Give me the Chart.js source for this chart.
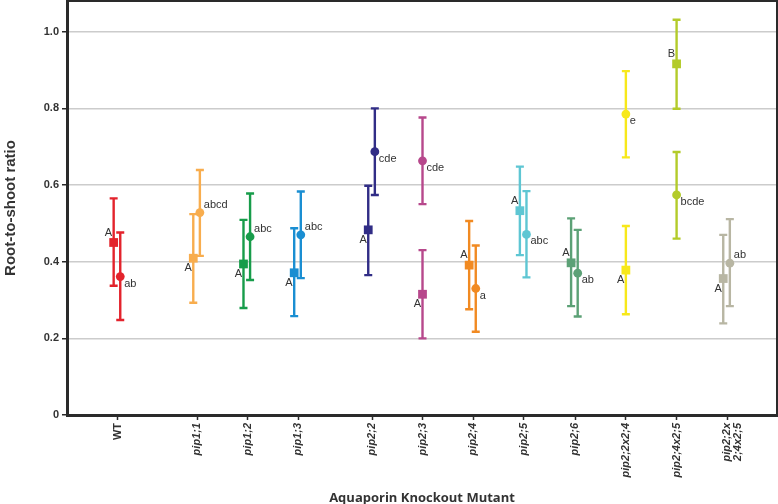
<!DOCTYPE html>
<html><head><meta charset="utf-8">
<script src="https://cdn.jsdelivr.net/npm/chart.js@4"></script>
<style>html,body{margin:0;padding:0;background:#fff}#wrap{width:778px;height:504px;position:relative}canvas{display:block}</style>
</head><body><div id="wrap"><canvas id="c" width="778" height="504" style="width:778px;height:504px"></canvas></div>
<script>
// ---- data ----
const categories = ['WT','pip1;1','pip1;2','pip1;3','pip2;2','pip2;3','pip2;4','pip2;5','pip2;6','pip2;2x2;4','pip2;4x2;5',['pip2;2x','2;4x2;5']];
const xPositions = [0,1.57,2.56,3.56,5.02,6.01,7.01,8.01,9.02,10.02,11.02,12.02];
const squareMean = [0.450,0.409,0.394,0.371,0.483,0.315,0.391,0.533,0.397,0.378,0.916,0.356];
const squareLow  = [0.337,0.293,0.279,0.258,0.365,0.200,0.276,0.417,0.284,0.263,0.799,0.239];
const squareHigh = [0.565,0.524,0.509,0.487,0.598,0.430,0.506,0.648,0.513,0.493,1.031,0.470];
const circleMean = [0.361,0.528,0.465,0.470,0.687,0.663,0.330,0.471,0.370,0.785,0.574,0.396];
const circleLow  = [0.248,0.415,0.352,0.357,0.574,0.550,0.217,0.359,0.257,0.672,0.460,0.284];
const circleHigh = [0.476,0.639,0.578,0.583,0.800,0.776,0.442,0.584,0.483,0.897,0.686,0.511];
const squareLetters = ['A','A','A','A','A','A','A','A','A','A','B','A'];
const circleLetters = ['ab','abcd','abc','abc','cde','cde','a','abc','ab','e','bcde','ab'];
const yTickValues = [0,0.2,0.4,0.6,0.8,1.0];

// ---- style ----
const colors = ['#e3232c','#f8ad4e','#179c4a','#1a8ed2','#312d86','#b7488c','#f18a22','#5ec6d3','#5ca176','#f7e81a','#b3cb2a','#b8b6a3'];
const squareLabelAbove = [true,false,false,false,false,false,true,true,true,false,true,false];
const circleLabelAbove = [false,true,true,true,false,false,false,false,false,false,false,true];
const squareShift = -0.08, circleShift = 0.05;
const dodge = squareLow.map((_, i) => !(squareHigh[i] < circleLow[i] || circleHigh[i] < squareLow[i]));

const squarePts = xPositions.map((x, i) => ({x: x + (dodge[i] ? squareShift : 0), y: squareMean[i]}));
const circlePts = xPositions.map((x, i) => ({x: x + (dodge[i] ? circleShift : 0), y: circleMean[i]}));

const TEXT = '#333333';
const FONT = "'Liberation Sans', Arial, sans-serif";

const extras = {
  id: 'extras',
  beforeDatasetsDraw(chart) {
    const ctx = chart.ctx, ys = chart.scales.y;
    const draw = (meta, lo, hi) => {
      meta.data.forEach((pt, i) => {
        const x = pt.x, y1 = ys.getPixelForValue(lo[i]), y2 = ys.getPixelForValue(hi[i]);
        ctx.save();
        ctx.strokeStyle = colors[i]; ctx.lineWidth = 2.4;
        ctx.beginPath();
        ctx.moveTo(x, y1); ctx.lineTo(x, y2);
        ctx.moveTo(x - 4, y1); ctx.lineTo(x + 4, y1);
        ctx.moveTo(x - 4, y2); ctx.lineTo(x + 4, y2);
        ctx.stroke();
        ctx.restore();
      });
    };
    draw(chart.getDatasetMeta(0), squareLow, squareHigh);
    draw(chart.getDatasetMeta(1), circleLow, circleHigh);
  },
  afterDatasetsDraw(chart) {
    const ctx = chart.ctx;
    ctx.save();
    ctx.fillStyle = TEXT; ctx.font = '11px ' + FONT; ctx.textBaseline = 'middle';
    chart.getDatasetMeta(0).data.forEach((pt, i) => {
      ctx.textAlign = 'right';
      ctx.fillText(squareLetters[i], pt.x - 1.5, pt.y + (squareLabelAbove[i] ? -10 : 10));
    });
    chart.getDatasetMeta(1).data.forEach((pt, i) => {
      ctx.textAlign = 'left';
      ctx.fillText(circleLetters[i], pt.x + 4, pt.y + (circleLabelAbove[i] ? -8 : 7));
    });
    ctx.restore();
  },
  afterDraw(chart) {
    const ctx = chart.ctx, a = chart.chartArea;
    ctx.save();
    ctx.strokeStyle = '#2a2a2a'; ctx.lineWidth = 2;
    ctx.beginPath();
    ctx.moveTo(a.left, a.top); ctx.lineTo(a.right, a.top); ctx.lineTo(a.right, a.bottom);
    ctx.stroke();
    ctx.restore();
  }
};

const noPad = (s) => { s.paddingTop = 0; s.paddingBottom = 0; s.paddingLeft = 0; s.paddingRight = 0; };

new Chart(document.getElementById('c'), {
  type: 'scatter',
  data: {
    datasets: [
      {label: 'square', data: squarePts, pointStyle: 'rect', pointRadius: 6.2, pointHoverRadius: 6.2,
       backgroundColor: colors, borderColor: colors, borderWidth: 0},
      {label: 'circle', data: circlePts, pointStyle: 'circle', pointRadius: 4.4, pointHoverRadius: 4.4,
       backgroundColor: colors, borderColor: colors, borderWidth: 0}
    ]
  },
  options: {
    responsive: false, animation: false, devicePixelRatio: 1,
    layout: {autoPadding: false, padding: {top: 1, right: 1, left: 0, bottom: 0}},
    plugins: {legend: {display: false}, tooltip: {enabled: false}},
    scales: {
      x: {
        type: 'linear', min: -1, max: 13,
        afterFit(s) { s.height = 89; noPad(s); },
        afterBuildTicks(s) { s.ticks = xPositions.map(v => ({value: v})); },
        grid: {drawOnChartArea: false, drawTicks: true, tickLength: 5, tickColor: '#2a2a2a', tickWidth: 1.5},
        border: {display: true, color: '#2a2a2a', width: 3},
        ticks: {
          autoSkip: false, maxRotation: 90, minRotation: 90, padding: 3, color: TEXT,
          font: (c) => ({family: FONT, size: 11, weight: 'bold', style: c.index === 0 ? 'normal' : 'italic', lineHeight: 1.0}),
          callback: (v, i) => categories[i]
        },
        title: {display: true, text: 'Aquaporin Knockout Mutant', color: TEXT,
          font: {family: "'Open Sans', sans-serif", size: 13, weight: 'bold'}, padding: {top: 0, bottom: -2}}
      },
      y: {
        min: 0, max: 1.08,
        afterFit(s) { s.width = 67; noPad(s); },
        afterBuildTicks(s) { s.ticks = yTickValues.map(v => ({value: v})); },
        grid: {color: '#cccccc', lineWidth: 1.5, drawTicks: true, tickLength: 5, tickColor: '#2a2a2a', tickWidth: 1.5},
        border: {display: true, color: '#2a2a2a', width: 3},
        ticks: {color: TEXT, padding: 3, font: {family: FONT, size: 11, weight: 'bold'},
          callback: (v) => v === 0 ? '0' : v.toFixed(1)},
        title: {display: true, text: 'Root-to-shoot ratio', color: TEXT,
          font: {family: FONT, size: 15, weight: 'bold'}, padding: {top: 2, bottom: 0}}
      }
    }
  },
  plugins: [extras]
});
</script></body></html>
